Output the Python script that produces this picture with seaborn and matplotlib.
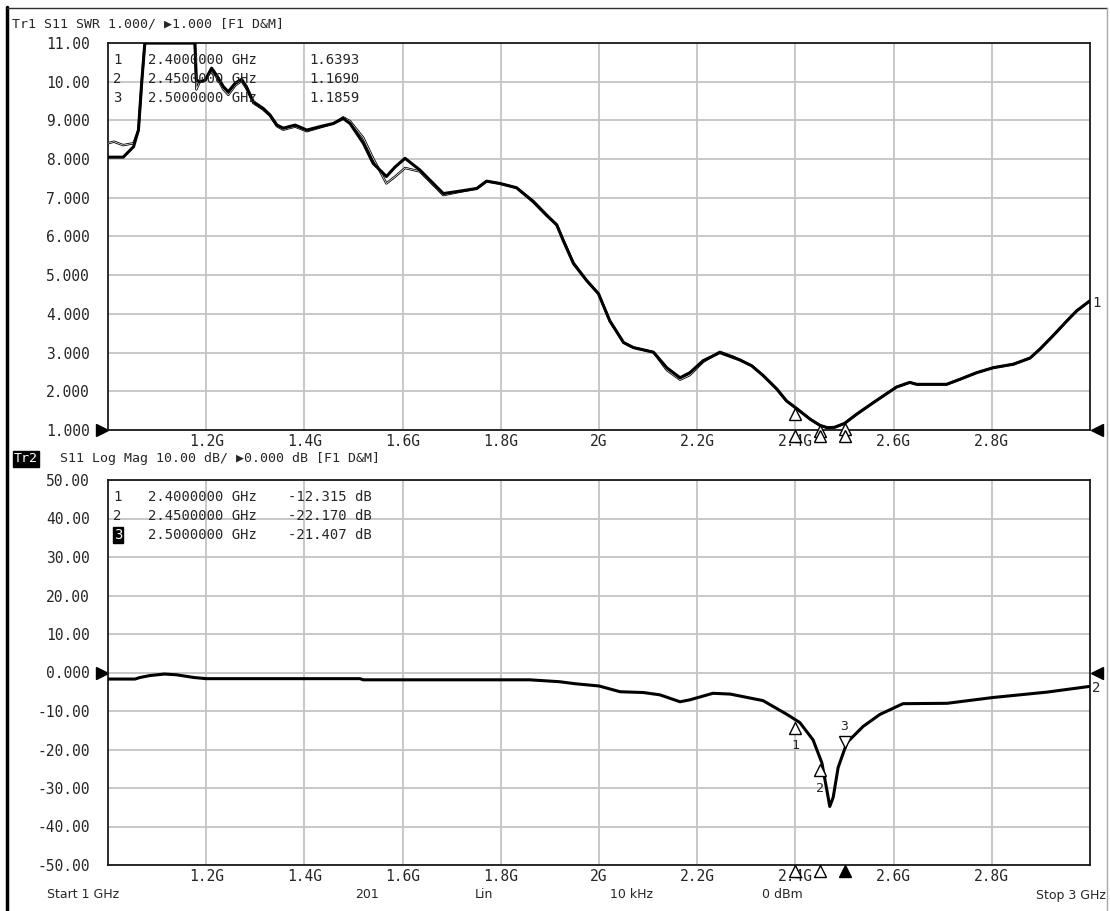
import matplotlib
matplotlib.use('Agg')  # Non-interactive backend
import matplotlib.pyplot as plt
from matplotlib.lines import Line2D
from matplotlib.transforms import offset_copy
import seaborn as sns
import pandas as pd

# ---- data ----
# Tr1: SWR trace (data) and memory trace, frequency in GHz
swr_freq = [1.000, 1.012, 1.031, 1.052, 1.062, 1.069, 1.075, 1.177, 1.180, 1.187,
            1.198, 1.211, 1.221, 1.235, 1.245, 1.259, 1.272, 1.282, 1.296, 1.316,
            1.330, 1.344, 1.357, 1.381, 1.405, 1.432, 1.459, 1.479, 1.493, 1.520,
            1.540, 1.567, 1.585, 1.605, 1.635, 1.683, 1.710, 1.751, 1.771, 1.798,
            1.832, 1.866, 1.893, 1.914, 1.927, 1.948, 1.975, 1.999, 2.022, 2.050,
            2.070, 2.111, 2.138, 2.165, 2.185, 2.212, 2.246, 2.274, 2.287, 2.311,
            2.335, 2.362, 2.382, 2.403, 2.430, 2.450, 2.465, 2.480, 2.500, 2.525,
            2.559, 2.586, 2.606, 2.633, 2.647, 2.708, 2.735, 2.769, 2.803, 2.844,
            2.878, 2.898, 2.925, 2.953, 2.973, 3.000]
swr_data = [8.05, 8.05, 8.05, 8.32, 8.75, 10.04, 11.00, 11.00, 10.04, 10.00,
            10.04, 10.35, 10.17, 9.87, 9.74, 9.96, 10.06, 9.87, 9.48, 9.31,
            9.14, 8.88, 8.80, 8.88, 8.75, 8.84, 8.92, 9.05, 8.92, 8.41,
            7.89, 7.55, 7.80, 8.02, 7.72, 7.11, 7.16, 7.24, 7.43, 7.37,
            7.26, 6.90, 6.55, 6.30, 5.90, 5.30, 4.86, 4.52, 3.82, 3.26,
            3.13, 3.01, 2.61, 2.35, 2.48, 2.79, 3.00, 2.87, 2.81, 2.66,
            2.40, 2.06, 1.75, 1.55, 1.28, 1.12, 1.06, 1.07, 1.17, 1.41,
            1.71, 1.94, 2.11, 2.23, 2.18, 2.18, 2.31, 2.48, 2.61, 2.70,
            2.86, 3.09, 3.44, 3.82, 4.08, 4.34]
swr_memory = [8.41, 8.45, 8.36, 8.41, 8.75, 10.04, 11.00, 11.00, 9.80, 10.00,
              10.04, 10.30, 10.12, 9.80, 9.66, 9.90, 10.02, 9.82, 9.45, 9.28,
              9.12, 8.85, 8.76, 8.84, 8.72, 8.82, 8.92, 9.08, 8.98, 8.55,
              8.02, 7.37, 7.55, 7.77, 7.68, 7.07, 7.14, 7.24, 7.43, 7.37,
              7.26, 6.92, 6.57, 6.30, 5.92, 5.32, 4.86, 4.52, 3.82, 3.26,
              3.13, 3.01, 2.55, 2.30, 2.42, 2.76, 3.02, 2.89, 2.81, 2.66,
              2.40, 2.06, 1.75, 1.55, 1.28, 1.12, 1.06, 1.07, 1.17, 1.41,
              1.71, 1.94, 2.11, 2.23, 2.18, 2.18, 2.31, 2.48, 2.61, 2.70,
              2.86, 3.09, 3.44, 3.82, 4.08, 4.34]

# Tr2: log magnitude (dB)
lm_freq = [1.000, 1.055, 1.065, 1.085, 1.115, 1.140, 1.175, 1.200, 1.513, 1.520,
           1.859, 1.920, 1.950, 2.000, 2.043, 2.090, 2.124, 2.165, 2.185, 2.232,
           2.267, 2.334, 2.383, 2.409, 2.436, 2.454, 2.464, 2.470, 2.477, 2.487,
           2.505, 2.538, 2.572, 2.619, 2.709, 2.802, 2.912, 3.000]
lm_data = [-1.7, -1.7, -1.3, -0.8, -0.4, -0.6, -1.3, -1.6, -1.6, -1.9,
           -1.9, -2.4, -2.9, -3.5, -5.0, -5.2, -5.8, -7.6, -7.1, -5.4,
           -5.6, -7.3, -10.9, -13.0, -17.5, -23.5, -30.5, -34.8, -32.4, -24.7,
           -18.2, -14.0, -10.9, -8.1, -8.0, -6.5, -5.1, -3.6]

# markers
marker_ids = ["1", "2", "3"]
marker_freq = [2.40, 2.45, 2.50]
marker_freq_text = ["2.4000000 GHz", "2.4500000 GHz", "2.5000000 GHz"]
marker_swr_text = ["1.6393", "1.1690", "1.1859"]
marker_db_text = ["-12.315 dB", "-22.170 dB", "-21.407 dB"]
marker_swr_pos = [1.55, 1.12, 1.17]
marker_db_pos = [-12.9, -24.0, -19.5]

# axes ticks
x_ticks = [1.2, 1.4, 1.6, 1.8, 2.0, 2.2, 2.4, 2.6, 2.8]
x_tick_labels = ["1.2G", "1.4G", "1.6G", "1.8G", "2G", "2.2G", "2.4G", "2.6G", "2.8G"]
swr_ticks = [1, 2, 3, 4, 5, 6, 7, 8, 9, 10, 11]
swr_tick_labels = ["1.000", "2.000", "3.000", "4.000", "5.000", "6.000",
                   "7.000", "8.000", "9.000", "10.00", "11.00"]
db_ticks = [-50, -40, -30, -20, -10, 0, 10, 20, 30, 40, 50]
db_tick_labels = ["-50.00", "-40.00", "-30.00", "-20.00", "-10.00", "0.000",
                  "10.00", "20.00", "30.00", "40.00", "50.00"]

footer_items = [("Start 1 GHz", 47, 'left'), ("201", 367, 'center'), ("Lin", 484, 'center'),
                ("10 kHz", 632, 'center'), ("0 dBm", 782, 'center'), ("Stop 3 GHz", 1106, 'right')]

W, H = 1110, 911
MONO = ['DejaVu Sans Mono', 'DejaVu Sans']

sns.set_style("white")
plt.rcParams['font.family'] = ['DejaVu Sans', 'DejaVu Sans Mono']
plt.rcParams['axes.linewidth'] = 1.3


def px(x, y):
    return x / W, 1 - y / H


def style_axes(ax, yticks, ylabels, ylim):
    ax.set_xlim(1.0, 3.0)
    ax.set_ylim(*ylim)
    ax.set_xticks(x_ticks)
    ax.set_xticklabels(x_tick_labels, fontfamily=MONO, fontsize=10.5)
    ax.set_yticks(yticks)
    ax.set_yticklabels(ylabels, fontfamily=MONO, fontsize=10.5)
    ax.tick_params(axis='x', length=0, pad=3)
    ax.tick_params(axis='y', length=0, pad=13)
    ax.grid(True, color='#c4c4c4', linewidth=1.3)
    ax.set_axisbelow(True)
    for s in ax.spines.values():
        s.set_color('#1a1a1a')
        s.set_visible(True)
    ax.set_xlabel("")
    ax.set_ylabel("")
    ax.set_facecolor('white')


def ref_arrows(ax, yval):
    t = ax.get_yaxis_transform()
    ax.plot([-0.0062], [yval], marker='>', ms=9, color='black', transform=t, clip_on=False)
    ax.plot([1.0072], [yval], marker='<', ms=9, color='black', transform=t, clip_on=False)


fig = plt.figure(figsize=(W / 100, H / 100), dpi=100)
ax1 = fig.add_axes([108 / W, 1 - 430 / H, 982 / W, 387 / H])
ax2 = fig.add_axes([108 / W, 1 - 865 / H, 982 / W, 385 / H])

# ---- Tr1 SWR ----
sns.lineplot(x=swr_freq, y=swr_memory, ax=ax1, color='black', linewidth=1.7,
             sort=False, estimator=None, zorder=3)
sns.lineplot(x=swr_freq, y=swr_memory, ax=ax1, color='white', linewidth=0.5,
             sort=False, estimator=None, zorder=3)
sns.lineplot(x=swr_freq, y=swr_data, ax=ax1, color='black', linewidth=2.2,
             sort=False, estimator=None, zorder=4)
style_axes(ax1, swr_ticks, swr_tick_labels, (1.0, 11.0))
ref_arrows(ax1, 1.0)

# ---- Tr2 Log Mag ----
sns.lineplot(x=lm_freq, y=lm_data, ax=ax2, color='black', linewidth=2.2,
             sort=False, estimator=None, zorder=4)
style_axes(ax2, db_ticks, db_tick_labels, (-50, 50))
ref_arrows(ax2, 0.0)

# trace markers: tip of the triangle sits on the trace
up1 = offset_copy(ax1.transData, fig=fig, y=-4, units='points')
up2 = offset_copy(ax2.transData, fig=fig, y=-4, units='points')
dn2 = offset_copy(ax2.transData, fig=fig, y=4, units='points')
for f, v in zip(marker_freq, marker_swr_pos):
    ax1.plot([f], [v], marker='^', ms=8, mfc='white', mec='black', mew=1.0,
             transform=up1, clip_on=False, zorder=6)
for i, (f, v) in enumerate(zip(marker_freq, marker_db_pos)):
    if i < 2:
        ax2.plot([f], [v], marker='^', ms=8, mfc='white', mec='black', mew=1.0,
                 transform=up2, clip_on=False, zorder=6)
        ax2.annotate(marker_ids[i], (f, v), xytext=(0, -17), textcoords='offset points',
                     ha='center', va='center', fontsize=9.5, fontfamily=MONO, zorder=6)
    else:
        ax2.plot([f], [v], marker='v', ms=8, mfc='white', mec='black', mew=1.0,
                 transform=dn2, clip_on=False, zorder=6)
        ax2.annotate(marker_ids[i], (f, v), xytext=(0, 15), textcoords='offset points',
                     ha='center', va='center', fontsize=9.5, fontfamily=MONO, zorder=6)

# stimulus markers under the x axis
for ax, lo in ((ax1, 1.0), (ax2, -50)):
    tr = up1 if ax is ax1 else up2
    for i, f in enumerate(marker_freq):
        filled = (ax is ax2 and i == 2)
        ax.plot([f], [lo], marker='^', ms=9, mfc='black' if filled else 'white',
                mec='black', mew=1.0, transform=tr, clip_on=False, zorder=6)

# ---- headers ----
fig.text(*px(12, 24), "Tr1 S11 SWR 1.000/ \u25b61.000 [F1 D&M]", fontsize=9.5,
         fontfamily=MONO, va='center', ha='left')
fig.text(*px(14, 459), "Tr2", fontsize=9.5, fontfamily=MONO, va='center', ha='left',
         color='white', bbox=dict(facecolor='black', edgecolor='black', pad=0.8))
fig.text(*px(60, 459), "S11 Log Mag 10.00 dB/ \u25b60.000 dB [F1 D&M]", fontsize=9.5,
         fontfamily=MONO, va='center', ha='left')

# ---- marker tables ----
for i in range(3):
    y1 = 60 + 19 * i
    y2 = 497 + 19 * i
    fig.text(*px(113, y1), marker_ids[i], fontsize=10, fontfamily=MONO, va='center')
    fig.text(*px(148, y1), marker_freq_text[i], fontsize=10, fontfamily=MONO, va='center')
    fig.text(*px(309, y1), marker_swr_text[i], fontsize=10, fontfamily=MONO, va='center')
    if i == 2:
        fig.text(*px(114, y2), marker_ids[i], fontsize=10, fontfamily=MONO, va='center',
                 color='white', bbox=dict(facecolor='black', edgecolor='black', pad=0.4))
    else:
        fig.text(*px(113, y2), marker_ids[i], fontsize=10, fontfamily=MONO, va='center')
    fig.text(*px(148, y2), marker_freq_text[i], fontsize=10, fontfamily=MONO, va='center')
    fig.text(*px(288, y2), marker_db_text[i], fontsize=10, fontfamily=MONO, va='center')

# trace end labels
fig.text(*px(1092, 303), "1", fontsize=10, fontfamily=MONO, va='center', ha='left')
fig.text(*px(1092, 688), "2", fontsize=10, fontfamily=MONO, va='center', ha='left')

# ---- footer ----
for txt, x, ha in footer_items:
    fig.text(*px(x, 895), txt, fontsize=9, ha=ha, va='center')

# screen frame
fig.add_artist(Line2D([7 / W, 7 / W], [0, 1 - 7 / H], color='black', lw=2.5,
                      transform=fig.transFigure))
fig.add_artist(Line2D([7 / W, 1107 / W], [1 - 8 / H, 1 - 8 / H], color='#303030', lw=1,
                      transform=fig.transFigure))
fig.add_artist(Line2D([1107 / W, 1107 / W], [0, 1 - 8 / H], color='#a8a8a8', lw=1,
                      transform=fig.transFigure))

fig.savefig('out.png', dpi=100, facecolor='white')
plt.close(fig)
